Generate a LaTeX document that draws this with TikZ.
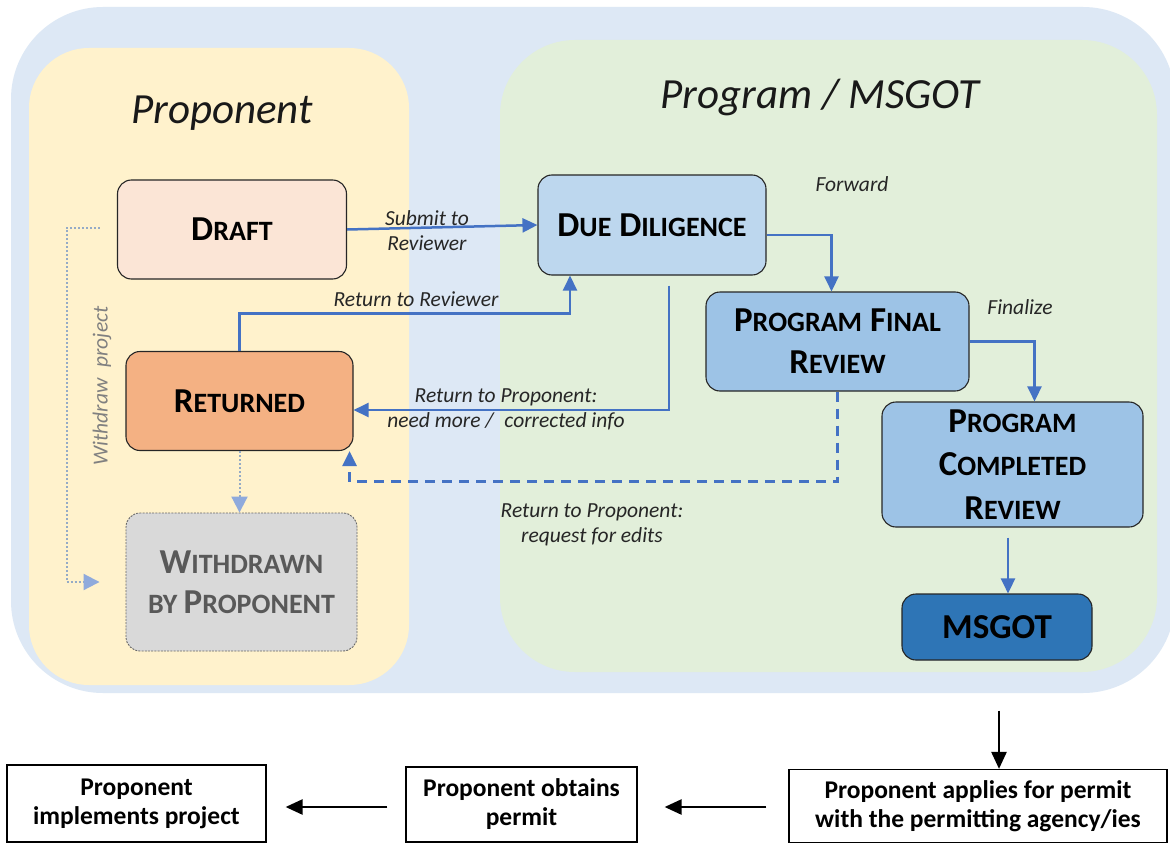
\documentclass[tikz,border=0pt]{standalone}
\usepackage{fontspec}
\setmainfont{Carlito}
\usetikzlibrary{arrows.meta,calc}
\definecolor{outerblue}{HTML}{DDE8F5}
\definecolor{yellowbg}{HTML}{FFF2CC}
\definecolor{greenbg}{HTML}{E2EFDA}
\definecolor{draftfill}{HTML}{FBE5D6}
\definecolor{duefill}{HTML}{BDD7EE}
\definecolor{pfrfill}{HTML}{9DC3E6}
\definecolor{retfill}{HTML}{F4B183}
\definecolor{wdfill}{HTML}{D9D9D9}
\definecolor{msgotfill}{HTML}{2E75B6}
\definecolor{arrowblue}{HTML}{4472C4}
\definecolor{dotblue}{HTML}{8FAADC}
\definecolor{dotline}{HTML}{95ABC6}
\definecolor{labeltext}{HTML}{262626}
\newcommand\capsc[2]{#1{\fontsize{28}{\baselineskip}\selectfont #2}}
\tikzset{
  statebox/.style={draw=black!85, line width=1.1pt, rounded corners=14pt, align=center,
    inner sep=2pt, font=\fontsize{35}{42}\selectfont\bfseries},
  permitbox/.style={draw=black, line width=1.2pt, align=center, inner sep=2pt,
    font=\fontsize{25.5}{29}\selectfont\bfseries},
  lbl/.style={text=labeltext, align=center, inner sep=0pt, font=\fontsize{21.5}{25}\selectfont\itshape},
  title/.style={text=black!90, inner sep=0pt, font=\fontsize{43}{48}\selectfont\itshape},
  barr/.style={draw=arrowblue, line width=2.5pt, -{Triangle[length=15pt,width=14pt]}},
  dotarr/.style={draw=dotline, line width=2pt, dash pattern=on 2pt off 2pt,
    -{Triangle[length=16pt,width=16pt,fill=dotblue,color=dotblue]}},
  karr/.style={draw=black, line width=2.5pt, -{Triangle[length=17pt,width=15pt]}},
}
\begin{document}
\begin{tikzpicture}[x=1pt,y=-1pt]
\useasboundingbox (0,0) rectangle (1170,843);
% background lanes
\fill[white] (0,0) rectangle (1170,843);
\fill[outerblue, rounded corners=92pt] (11,7) rectangle (1175,693);
\fill[yellowbg, rounded corners=60pt] (29,48) rectangle (409,685);
\fill[greenbg, rounded corners=75pt] (500,40) rectangle (1157,672);
\node[title, anchor=base] (tprop) at (222,123) {Proponent};
\node[title, anchor=base] (tprog) at (820,108) {Program / MSGOT};

% state nodes
\node[statebox, fill=draftfill, minimum width=229pt, minimum height=99pt] (draft) at (232,229.5) {\capsc{D}{RAFT}};
\node[statebox, fill=duefill, minimum width=228pt, minimum height=100pt] (due) at (652,225) {\capsc{D}{UE} \capsc{D}{ILIGENCE}};
\node[statebox, fill=pfrfill, minimum width=263pt, minimum height=99pt] (pfr) at (837.5,341.5) {\capsc{P}{ROGRAM} \capsc{F}{INAL}\\\capsc{R}{EVIEW}};
\node[statebox, fill=pfrfill, minimum width=261pt, minimum height=125pt,
  font=\fontsize{35}{43.5}\selectfont\bfseries] (pcr) at (1012.5,464.5) {\capsc{P}{ROGRAM}\\\capsc{C}{OMPLETED}\\\capsc{R}{EVIEW}};
\node[statebox, fill=msgotfill, minimum width=190pt, minimum height=66pt] (msgot) at (997,627) {MSGOT};
\node[statebox, fill=retfill, minimum width=227pt, minimum height=99pt] (ret) at (239.5,401) {\capsc{R}{ETURNED}};
\node[statebox, fill=wdfill, draw=black!60, dash pattern=on 2pt off 1.2pt, line width=0.9pt,
  text=black!65, minimum width=231pt, minimum height=138pt,
  font=\fontsize{35}{40}\selectfont\bfseries] (wd) at (241.5,582) {\capsc{W}{ITHDRAWN}\\\capsc{}{BY }\capsc{P}{ROPONENT}};

% permit boxes
\node[permitbox, minimum width=378pt, minimum height=73pt] (box3) at (978,806) {Proponent applies for permit\\with the permitting agency/ies};
\node[permitbox, minimum width=231pt, minimum height=75pt] (box2) at (521.5,804.5) {Proponent obtains\\permit};
\node[permitbox, minimum width=259pt, minimum height=77pt] (box1) at (136.5,803.5) {Proponent\\implements project};

% labels
\node[lbl] (lsub) at (427,231) {Submit to\\Reviewer};
\node[lbl] (lrr) at (416,299) {Return to Reviewer};
\node[lbl] (lrp) at (506,409) {Return to Proponent:\\need more /\enspace corrected info};
\node[lbl] (lre) at (592,525) {Return to Proponent:\\request for edits};
\node[lbl] (lfw) at (852,184) {Forward};
\node[lbl] (lfn) at (1020,307) {Finalize};
\node[lbl, text=black!50, rotate=90] (lwp) at (102,386) {Withdraw\enspace project};

% blue connectors
\draw[barr] (draft.east) -- (due.west);
\draw[barr] (ret.north) |- ($(due.south)+(-82,38)$) -- ($(due.south)+(-82,0)$);
\coordinate (dueout) at ($(due.south)+(17,10)$);
\draw[barr] (dueout) |- ($(ret.east)+(0,9)$);
\draw[barr] ($(due.east)+(0,10)$) -| ($(pfr.north)+(-6,0)$);
\draw[barr] (pfr.east) -| ($(pcr.north)+(22,0)$);
\draw[barr, dash pattern=on 10pt off 7pt] (pfr.south) |- ($(ret.south east)+(-4,30.5)$) -- ($(ret.south east)+(-4,0)$);
\coordinate (pcrout) at ($(pcr.south)+(-4.5,10)$);
\draw[barr] (pcrout) -- (pcrout |- msgot.north);

% dotted withdraw connectors
\draw[dotarr] (ret.south) -- (ret.south |- wd.north);
\coordinate (wdA) at ($(draft.west)+(-17,-2)$);
\draw[dotarr] (wdA) -| ($(wd.west)+(-59,0)$) -- ($(wd.west)+(-26,0)$);

% black connectors
\coordinate (kA) at ($(msgot.south)+(2,50)$);
\draw[karr] (kA) -- (kA |- box3.north);
\coordinate (kB) at ($(box3.west)+(-22,1)$);
\coordinate (kC) at ($(box2.east)+(27,2.5)$);
\draw[karr] (kB) -- (kC);
\coordinate (kD) at ($(box2.west)+(-18,2.5)$);
\coordinate (kE) at ($(box1.east)+(19,3.5)$);
\draw[karr] (kD) -- (kE);
\end{tikzpicture}
\end{document}
